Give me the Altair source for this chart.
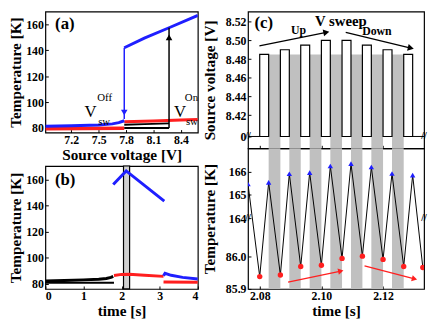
import altair as alt
import pandas as pd

FONT = "Liberation Serif"
BLUE = "#1f1fff"
RED = "#ff1f1f"
GRAY = "#c0c0c0"

# ---------------- panel (a): temperature vs source voltage ----------------
A_X_DOMAIN = [6.917, 8.585]
A_Y_DOMAIN = [76.5, 170.0]
A_X_TICKS = [7.2, 7.5, 7.8, 8.1, 8.4]
A_Y_TICKS = [80, 100, 120, 140, 160]

A_BLUE_LOW_V = [6.917, 7.2, 7.5, 7.65, 7.72, 7.78]
A_BLUE_LOW_T = [81.4, 81.7, 82.4, 83.2, 84.2, 85.6]
A_BLUE_HIGH_V = [7.78, 8.0, 8.27, 8.585]
A_BLUE_HIGH_T = [142.0, 149.5, 157.5, 167.0]
A_RED_LOW_V = [6.917, 7.78]
A_RED_LOW_T = [79.4, 79.8]
A_RED_HIGH_V = [7.78, 8.1, 8.4, 8.585]
A_RED_HIGH_T = [84.8, 85.5, 86.2, 86.6]
A_BLACK_LOW_V = [7.78, 8.27]
A_BLACK_LOW_T = [80.0, 80.0]
A_BLACK_MID_V = [7.78, 8.0, 8.27]
A_BLACK_MID_T = [82.6, 83.0, 83.6]
V_OFF = 7.78
V_ON = 8.27
A_OFF_ARROW_T = [142.0, 87.0]
A_ON_ARROW_T = [80.0, 157.5]
A_OFF_HEAD_T = 92.0
A_ON_HEAD_T = 150.0
A_BIG_TEXT = ["V", "V"]
A_BIG_X = [7.41, 8.39]
A_BIG_Y = [92.0, 92.0]
A_SMALL_TEXT = ["Off", "sw", "On", "sw"]
A_SMALL_X = [7.565, 7.56, 8.515, 8.52]
A_SMALL_Y = [103.0, 84.6, 103.0, 84.6]
A_LABEL = ("(a)", 7.13, 160.5)

# ---------------- panel (b): temperature vs time ----------------
B_X_DOMAIN = [0.0, 4.0]
B_Y_DOMAIN = [75.9, 170.6]
B_X_TICKS = [0, 1, 2, 3, 4]
B_Y_TICKS = [80, 100, 120, 140, 160]

B_BLACK_UP_t = [0.0, 0.5, 1.0, 1.4, 1.6, 1.72, 1.78]
B_BLACK_UP_T = [82.0, 82.4, 82.9, 83.4, 84.0, 84.8, 85.6]
B_BLACK_LOW_t = [0.0, 1.8]
B_BLACK_LOW_T = [80.6, 80.6]
B_RED_t = [1.8, 2.0, 2.2, 2.6, 3.1]
B_RED_T = [86.3, 87.1, 87.2, 86.5, 85.6]
B_RED2_t = [3.1, 4.0]
B_RED2_T = [81.3, 81.0]
B_BLUE_t = [1.78, 2.12, 3.12]
B_BLUE_T = [156.3, 166.8, 143.5]
B_BLUE2_t = [3.1, 3.14, 3.3, 3.6, 4.0]
B_BLUE2_T = [86.0, 88.0, 86.4, 84.8, 83.6]
B_BAR = [2.05, 2.21]
B_LABEL = ("(b)", 0.52, 159.6)

# ---------------- panel (c): pulses and temperature ----------------
C_X_DOMAIN = [2.0762, 2.1333]
C_X_TICKS = [2.08, 2.10, 2.12]
V_DOMAIN = [-1.0, 0.0, 8.41, 8.5308]
V_RANGE = [139, 127, 114.9, 0]
V_TICKS = [0, 8.42, 8.44, 8.46, 8.48, 8.50, 8.52]
PULSE_START = [2.0800, 2.0867, 2.0933, 2.1000, 2.1067, 2.1133, 2.1200, 2.1267]
PULSE_END = [2.0829, 2.0896, 2.0962, 2.1029, 2.1096, 2.1162, 2.1229, 2.1296]
PULSE_V = [8.485, 8.490, 8.495, 8.500, 8.500, 8.495, 8.490, 8.485]
GRAY_TOP = 8.485
UP_ARROW = [2.0799, 8.4941, 2.1016, 8.5086]
DOWN_ARROW = [2.1079, 8.5085, 2.1290, 8.4917]
C_TEXT = ["V sweep", "Up", "Down"]
C_TEXT_X = [2.1063, 2.0926, 2.1180]
C_TEXT_Y = [8.5205, 8.5109, 8.5099]
C_TEXT_SIZE = [15, 12, 12]
C_LABEL = ("(c)", 2.0813, 8.5187)

T_DOMAIN = [85.9, 86.118, 164.0, 166.99]
T_RANGE = [143, 71, 71, 0]
T_TICKS = [85.9, 86.0, 164, 165, 166]
PEAK_TIME = [2.0762, 2.0829, 2.0896, 2.0962, 2.1029, 2.1096, 2.1162, 2.1229, 2.1296]
PEAK_T = [165.46, 165.53, 165.90, 165.95, 166.23, 166.33, 166.19, 165.91, 165.84]
TROUGH_TIME = [2.0800, 2.0867, 2.0933, 2.1000, 2.1067, 2.1133, 2.1200, 2.1267, 2.1329]
TROUGH_T = [85.938, 85.943, 85.969, 85.973, 85.994, 86.001, 85.991, 85.969, 85.966]
RED_ARROW_1 = [2.0892, 85.921, 2.1063, 85.955]
RED_ARROW_2 = [2.1140, 85.971, 2.1302, 85.931]


def frame(xs, ys, **extra):
    d = {"x": list(xs), "y": list(ys)}
    d.update({k: list(v) for k, v in extra.items()})
    return pd.DataFrame(d)


def make_enc(xscale, yscale, xaxis, yaxis):
    def enc(chart):
        return chart.encode(
            x=alt.X("x:Q", scale=xscale, axis=xaxis),
            y=alt.Y("y:Q", scale=yscale, axis=yaxis),
        )
    return enc


def line(enc, df, color, width):
    return enc(alt.Chart(df).mark_line(color=color, strokeWidth=width, clip=True))


def arrow_rule(enc, x1, y1, x2, y2, color, width=1.5):
    df = frame([x1], [y1], x2=[x2], y2=[y2])
    return enc(alt.Chart(df).mark_rule(color=color, strokeWidth=width)).encode(
        x2="x2:Q", y2="y2:Q")


def head(enc, x, y, color, shape, angle=0, size=45):
    df = frame([x], [y])
    return enc(alt.Chart(df).mark_point(shape=shape, filled=True, size=size, color=color,
                                        opacity=1, angle=angle, strokeWidth=0))


def texts(enc, ts, xs, ys, size, weight="normal", align="center"):
    df = frame(xs, ys, t=ts)
    return enc(alt.Chart(df).mark_text(font=FONT, fontSize=size, fontWeight=weight,
                                       color="black", align=align)).encode(text="t:N")


# ---------------- build (a) ----------------
enc_a = make_enc(
    alt.Scale(domain=A_X_DOMAIN, nice=False, zero=False),
    alt.Scale(domain=A_Y_DOMAIN, nice=False, zero=False),
    alt.Axis(values=A_X_TICKS, format=".1f", title="Source voltage [V]"),
    alt.Axis(values=A_Y_TICKS, format="d", title="Temperature [K]"),
)
panel_a = alt.layer(
    line(enc_a, frame(A_RED_LOW_V, A_RED_LOW_T), RED, 3.5),
    line(enc_a, frame(A_BLACK_LOW_V, A_BLACK_LOW_T), "black", 2),
    line(enc_a, frame(A_BLACK_MID_V, A_BLACK_MID_T), "black", 2),
    line(enc_a, frame(A_RED_HIGH_V, A_RED_HIGH_T), RED, 3),
    line(enc_a, frame(A_BLUE_LOW_V, A_BLUE_LOW_T), BLUE, 3),
    line(enc_a, frame(A_BLUE_HIGH_V, A_BLUE_HIGH_T), BLUE, 3),
    arrow_rule(enc_a, V_OFF, A_OFF_ARROW_T[0], V_OFF, A_OFF_ARROW_T[1], BLUE, 1.5),
    head(enc_a, V_OFF, A_OFF_HEAD_T, BLUE, "triangle-down"),
    arrow_rule(enc_a, V_ON, A_ON_ARROW_T[0], V_ON, A_ON_ARROW_T[1], "black", 1.5),
    head(enc_a, V_ON, A_ON_HEAD_T, "black", "triangle-up"),
    texts(enc_a, A_BIG_TEXT, A_BIG_X, A_BIG_Y, 17),
    texts(enc_a, A_SMALL_TEXT, A_SMALL_X, A_SMALL_Y, 11),
    texts(enc_a, [A_LABEL[0]], [A_LABEL[1]], [A_LABEL[2]], 17, "bold"),
).properties(width=155, height=123)

# ---------------- build (b) ----------------
enc_b = make_enc(
    alt.Scale(domain=B_X_DOMAIN, nice=False, zero=False),
    alt.Scale(domain=B_Y_DOMAIN, nice=False, zero=False),
    alt.Axis(values=B_X_TICKS, format="d", title="time [s]"),
    alt.Axis(values=B_Y_TICKS, format="d", title="Temperature [K]"),
)
bar_df = frame([B_BAR[0]], [B_Y_DOMAIN[0]], x2=[B_BAR[1]], y2=[B_Y_DOMAIN[1]])
panel_b = alt.layer(
    enc_b(alt.Chart(bar_df).mark_rect(fill="#d0d0d0", stroke="black", strokeWidth=1.2))
    .encode(x2="x2:Q", y2="y2:Q"),
    line(enc_b, frame(B_BLACK_LOW_t, B_BLACK_LOW_T), "black", 2),
    line(enc_b, frame(B_BLACK_UP_t, B_BLACK_UP_T), "black", 3),
    line(enc_b, frame(B_RED_t, B_RED_T), RED, 3),
    line(enc_b, frame(B_RED2_t, B_RED2_T), RED, 3),
    line(enc_b, frame(B_BLUE_t, B_BLUE_T), BLUE, 3),
    line(enc_b, frame(B_BLUE2_t, B_BLUE2_T), BLUE, 3),
    texts(enc_b, [B_LABEL[0]], [B_LABEL[1]], [B_LABEL[2]], 17, "bold"),
).properties(width=155, height=125)

# ---------------- build (c) top: pulses ----------------
c_x_scale = alt.Scale(domain=C_X_DOMAIN, nice=False, zero=False)
enc_ct = make_enc(
    c_x_scale,
    alt.Scale(domain=V_DOMAIN, range=V_RANGE, nice=False, zero=False),
    alt.Axis(values=C_X_TICKS, labels=False, title=None),
    alt.Axis(values=V_TICKS, title="Source voltage [V]", titlePadding=8,
             labelExpr="datum.value == 0 ? '0' : format(datum.value, '.2f')"),
)
base_df = frame([C_X_DOMAIN[0]], [0.0], x2=[C_X_DOMAIN[1]])
gray_df = frame(PULSE_END[:-1], [V_DOMAIN[0]] * (len(PULSE_END) - 1),
                x2=PULSE_START[1:], y2=[GRAY_TOP] * (len(PULSE_END) - 1))
pulse_df = frame(PULSE_START, [0.0] * len(PULSE_START), x2=PULSE_END, y2=PULSE_V)
brk_top = frame(C_X_DOMAIN, [0.0, 0.0])
panel_ct = alt.layer(
    enc_ct(alt.Chart(base_df).mark_rule(color="black", strokeWidth=1)).encode(x2="x2:Q"),
    enc_ct(alt.Chart(gray_df).mark_rect(color=GRAY)).encode(x2="x2:Q", y2="y2:Q"),
    enc_ct(alt.Chart(pulse_df).mark_rect(fill="white", stroke="black", strokeWidth=1.2))
    .encode(x2="x2:Q", y2="y2:Q"),
    arrow_rule(enc_ct, *UP_ARROW, "black", 1.3),
    head(enc_ct, UP_ARROW[2], UP_ARROW[3], "black", "triangle-right", 348.6, 50),
    arrow_rule(enc_ct, *DOWN_ARROW, "black", 1.3),
    head(enc_ct, DOWN_ARROW[2], DOWN_ARROW[3], "black", "triangle-right", 13.5, 50),
    texts(enc_ct, C_TEXT[:1], C_TEXT_X[:1], C_TEXT_Y[:1], C_TEXT_SIZE[0], "bold"),
    texts(enc_ct, C_TEXT[1:], C_TEXT_X[1:], C_TEXT_Y[1:], C_TEXT_SIZE[1], "bold"),
    texts(enc_ct, [C_LABEL[0]], [C_LABEL[1]], [C_LABEL[2]], 17, "bold"),
    texts(enc_ct, ["//", "//"], brk_top["x"], brk_top["y"], 10, "bold"),
).properties(width=179, height=139)

# ---------------- build (c) bottom: temperature ----------------
enc_cb = make_enc(
    c_x_scale,
    alt.Scale(domain=T_DOMAIN, range=T_RANGE, nice=False, zero=False),
    alt.Axis(values=C_X_TICKS, format=".2f", title="time [s]"),
    alt.Axis(values=T_TICKS, title="Temperature [K]", titlePadding=8,
             labelExpr="datum.value < 100 ? format(datum.value, '.1f') : format(datum.value, 'd')"),
)
gray_full = frame(PULSE_END[:-1], [T_DOMAIN[0]] * (len(PULSE_END) - 1),
                  x2=PULSE_START[1:], y2=[T_DOMAIN[-1]] * (len(PULSE_END) - 1))
zig_t, zig_T = [], []
for i in range(len(PEAK_TIME)):
    zig_t += [PEAK_TIME[i], TROUGH_TIME[i]]
    zig_T += [PEAK_T[i], TROUGH_T[i]]
zig_df = frame(zig_t, zig_T, o=list(range(len(zig_t))))
brk_bot = frame(C_X_DOMAIN, [100.0, 100.0])
panel_cb = alt.layer(
    enc_cb(alt.Chart(gray_full).mark_rect(color=GRAY)).encode(x2="x2:Q", y2="y2:Q"),
    enc_cb(alt.Chart(zig_df).mark_line(color="black", strokeWidth=1, clip=True)).encode(order="o:Q"),
    enc_cb(alt.Chart(frame(PEAK_TIME, PEAK_T)).mark_point(
        shape="triangle-up", filled=True, size=30, color=BLUE, opacity=1, clip=True)),
    enc_cb(alt.Chart(frame(TROUGH_TIME, TROUGH_T)).mark_point(
        shape="circle", filled=True, size=30, color=RED, opacity=1, clip=True)),
    arrow_rule(enc_cb, *RED_ARROW_1, RED, 1.3),
    head(enc_cb, RED_ARROW_1[2], RED_ARROW_1[3], RED, "triangle-right", 347.8, 40),
    arrow_rule(enc_cb, *RED_ARROW_2, RED, 1.3),
    head(enc_cb, RED_ARROW_2[2], RED_ARROW_2[3], RED, "triangle-right", 14.9, 40),
    texts(enc_cb, ["//", "//"], brk_bot["x"], brk_bot["y"], 10, "bold"),
).properties(width=179, height=143)

left = alt.vconcat(panel_a, panel_b, spacing=34, bounds="flush")
right = alt.vconcat(panel_ct, panel_cb, spacing=0, bounds="flush")

chart = alt.hconcat(left, right, spacing=2, padding=0).configure_view(
    stroke="black", strokeWidth=1.2
).configure_axis(
    labelFont=FONT, titleFont=FONT, labelFontSize=12, titleFontSize=15.5,
    labelFontWeight="bold", titleFontWeight="bold", labelColor="black",
    titleColor="black", tickColor="black", tickSize=3, offset=-3, domain=False,
    grid=False, labelPadding=2, titlePadding=2,
)

chart.save("out.html", embed_options={"renderer": "svg", "actions": False})
